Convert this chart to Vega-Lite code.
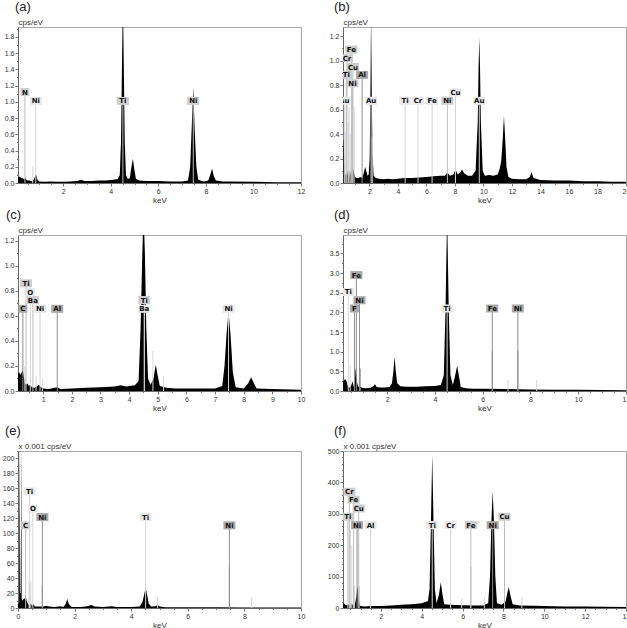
{
"$schema": "https://vega.github.io/schema/vega-lite/v6.json",
"padding": {"left": 1, "top": 0, "right": 0, "bottom": 0},
"background": "white",
"config": {
 "view": {"stroke": "#a8a8a8", "strokeWidth": 1},
 "axis": {"labelFont": "Liberation Sans", "labelFontSize": 7, "labelColor": "#333", "titleFont": "Liberation Sans", "titleFontSize": 8, "titleFontWeight": "normal", "titleColor": "#333", "domainColor": "#666", "tickColor": "#777", "grid": false, "labelPadding": 1, "labelOverlap": false, "labelFlush": false, "titlePadding": 2},
 "title": {"font": "Liberation Sans", "fontSize": 13, "fontWeight": "normal", "anchor": "start", "frame": "group", "baseline": "alphabetic", "offset": 4, "color": "#222"}
},
"datasets": {
 "a_s": [{"e":0.1,"v":0.07},{"e":0.15,"v":0.08},{"e":0.2,"v":0.07},{"e":0.25,"v":0.06},{"e":0.3,"v":0.06},{"e":0.35,"v":0.05},{"e":0.4,"v":0.06},{"e":0.45,"v":0.04},{"e":0.5,"v":0.03},{"e":0.6,"v":0.03},{"e":0.7,"v":0.02},{"e":0.78,"v":0.05},{"e":0.85,"v":0.11},{"e":0.92,"v":0.04},{"e":1.0,"v":0.02},{"e":1.2,"v":0.015},{"e":1.5,"v":0.02},{"e":1.7,"v":0.015},{"e":2.0,"v":0.015},{"e":2.3,"v":0.02},{"e":2.6,"v":0.025},{"e":2.75,"v":0.04},{"e":2.9,"v":0.025},{"e":3.2,"v":0.025},{"e":3.5,"v":0.03},{"e":3.8,"v":0.03},{"e":4.1,"v":0.04},{"e":4.3,"v":0.05},{"e":4.38,"v":0.1},{"e":4.43,"v":0.5},{"e":4.47,"v":1.4},{"e":4.51,"v":2.3},{"e":4.55,"v":1.4},{"e":4.59,"v":0.5},{"e":4.64,"v":0.1},{"e":4.72,"v":0.05},{"e":4.8,"v":0.06},{"e":4.86,"v":0.18},{"e":4.93,"v":0.3},{"e":5.0,"v":0.15},{"e":5.06,"v":0.05},{"e":5.2,"v":0.03},{"e":5.5,"v":0.025},{"e":6.0,"v":0.025},{"e":6.5,"v":0.02},{"e":7.0,"v":0.02},{"e":7.25,"v":0.03},{"e":7.34,"v":0.2},{"e":7.4,"v":0.65},{"e":7.47,"v":1.18},{"e":7.53,"v":0.65},{"e":7.6,"v":0.2},{"e":7.68,"v":0.04},{"e":7.9,"v":0.02},{"e":8.1,"v":0.03},{"e":8.18,"v":0.1},{"e":8.26,"v":0.18},{"e":8.33,"v":0.09},{"e":8.42,"v":0.03},{"e":8.7,"v":0.02},{"e":9,"v":0.02},{"e":10,"v":0.015},{"e":11,"v":0.01},{"e":12,"v":0.01}],
 "a_m": [{"e":0.72,"v":0.2,"g":1}],
 "a_l": [{"el":"N","e":0.39,"v":1.12,"g":2},{"el":"Ni","e":0.85,"v":1.01,"g":1},{"el":"Ti","e":4.51,"v":1.01,"g":2},{"el":"Ni","e":7.47,"v":1.01,"g":2}],
 "b_s": [{"e":0.15,"v":0.36},{"e":0.2,"v":0.33},{"e":0.25,"v":0.15},{"e":0.3,"v":0.06},{"e":0.35,"v":0.08},{"e":0.4,"v":0.05},{"e":0.45,"v":0.1},{"e":0.5,"v":0.06},{"e":0.57,"v":0.12},{"e":0.62,"v":0.05},{"e":0.7,"v":0.1},{"e":0.78,"v":0.06},{"e":0.85,"v":0.12},{"e":0.93,"v":0.08},{"e":1.0,"v":0.05},{"e":1.1,"v":0.04},{"e":1.25,"v":0.04},{"e":1.4,"v":0.05},{"e":1.5,"v":0.04},{"e":1.6,"v":0.08},{"e":1.7,"v":0.13},{"e":1.78,"v":0.1},{"e":1.86,"v":0.06},{"e":1.95,"v":0.07},{"e":2.02,"v":0.2},{"e":2.07,"v":0.7},{"e":2.12,"v":1.4},{"e":2.17,"v":0.7},{"e":2.22,"v":0.25},{"e":2.3,"v":0.06},{"e":2.45,"v":0.04},{"e":2.7,"v":0.035},{"e":3,"v":0.03},{"e":3.3,"v":0.035},{"e":3.6,"v":0.03},{"e":4,"v":0.035},{"e":4.5,"v":0.04},{"e":5,"v":0.04},{"e":5.5,"v":0.045},{"e":6,"v":0.05},{"e":6.5,"v":0.055},{"e":7,"v":0.06},{"e":7.3,"v":0.06},{"e":7.47,"v":0.085},{"e":7.65,"v":0.06},{"e":7.9,"v":0.07},{"e":8.04,"v":0.11},{"e":8.2,"v":0.07},{"e":8.4,"v":0.09},{"e":8.5,"v":0.11},{"e":8.65,"v":0.08},{"e":8.9,"v":0.06},{"e":9.2,"v":0.06},{"e":9.45,"v":0.1},{"e":9.6,"v":0.5},{"e":9.66,"v":0.95},{"e":9.71,"v":1.19},{"e":9.76,"v":0.95},{"e":9.82,"v":0.5},{"e":9.95,"v":0.1},{"e":10.1,"v":0.06},{"e":10.4,"v":0.065},{"e":10.7,"v":0.06},{"e":11.0,"v":0.07},{"e":11.15,"v":0.12},{"e":11.25,"v":0.18},{"e":11.35,"v":0.35},{"e":11.44,"v":0.55},{"e":11.53,"v":0.35},{"e":11.62,"v":0.13},{"e":11.75,"v":0.05},{"e":12.0,"v":0.035},{"e":12.5,"v":0.03},{"e":13.0,"v":0.03},{"e":13.25,"v":0.05},{"e":13.38,"v":0.09},{"e":13.5,"v":0.04},{"e":14,"v":0.025},{"e":15,"v":0.02},{"e":16,"v":0.02},{"e":17,"v":0.015},{"e":18,"v":0.015},{"e":19,"v":0.01},{"e":20,"v":0.01}],
 "b_m": [{"e":0.3,"v":0.42,"g":1},{"e":0.52,"v":0.5,"g":1},{"e":0.57,"v":0.62,"g":1},{"e":0.65,"v":0.4,"g":1},{"e":0.93,"v":0.62,"g":1},{"e":2.2,"v":0.38,"g":1}],
 "b_l": [{"el":"Fe","e":0.74,"v":1.09,"g":2},{"el":"Cr","e":0.43,"v":1.02,"g":2},{"el":"Cu","e":0.85,"v":0.948,"g":2},{"el":"Ti","e":0.38,"v":0.883,"g":2},{"el":"Al","e":1.49,"v":0.883,"g":3},{"el":"Ni","e":0.81,"v":0.815,"g":2},{"el":"Au","e":0.24,"v":0.672,"g":1},{"el":"Au","e":2.12,"v":0.672,"g":1},{"el":"Ti","e":4.51,"v":0.672,"g":1},{"el":"Cr","e":5.41,"v":0.672,"g":1},{"el":"Fe","e":6.4,"v":0.672,"g":1},{"el":"Ni","e":7.47,"v":0.672,"g":2},{"el":"Cu","e":8.04,"v":0.741,"g":1},{"el":"Au","e":9.71,"v":0.672,"g":1}],
 "c_s": [{"e":0.12,"v":0.14},{"e":0.16,"v":0.15},{"e":0.2,"v":0.13},{"e":0.25,"v":0.15},{"e":0.28,"v":0.17},{"e":0.32,"v":0.12},{"e":0.36,"v":0.06},{"e":0.4,"v":0.05},{"e":0.45,"v":0.06},{"e":0.5,"v":0.04},{"e":0.55,"v":0.05},{"e":0.6,"v":0.03},{"e":0.7,"v":0.025},{"e":0.8,"v":0.04},{"e":0.85,"v":0.05},{"e":0.92,"v":0.03},{"e":1,"v":0.02},{"e":1.2,"v":0.015},{"e":1.49,"v":0.03},{"e":1.6,"v":0.015},{"e":2,"v":0.02},{"e":2.5,"v":0.025},{"e":3,"v":0.03},{"e":3.5,"v":0.035},{"e":3.7,"v":0.045},{"e":3.9,"v":0.035},{"e":4.2,"v":0.045},{"e":4.33,"v":0.08},{"e":4.4,"v":0.5},{"e":4.45,"v":1.0},{"e":4.5,"v":1.45},{"e":4.55,"v":1.1},{"e":4.6,"v":0.5},{"e":4.66,"v":0.1},{"e":4.75,"v":0.05},{"e":4.85,"v":0.1},{"e":4.93,"v":0.21},{"e":5.0,"v":0.12},{"e":5.07,"v":0.04},{"e":5.3,"v":0.025},{"e":5.6,"v":0.02},{"e":6,"v":0.02},{"e":6.5,"v":0.02},{"e":7,"v":0.02},{"e":7.25,"v":0.04},{"e":7.33,"v":0.2},{"e":7.4,"v":0.45},{"e":7.47,"v":0.63},{"e":7.54,"v":0.45},{"e":7.62,"v":0.15},{"e":7.72,"v":0.03},{"e":8.0,"v":0.02},{"e":8.15,"v":0.06},{"e":8.26,"v":0.11},{"e":8.36,"v":0.06},{"e":8.45,"v":0.02},{"e":9,"v":0.015},{"e":10,"v":0.01}],
 "c_m": [{"e":0.36,"v":0.2,"g":1},{"e":0.75,"v":0.12,"g":1},{"e":0.97,"v":0.1,"g":1},{"e":4.83,"v":0.32,"g":1},{"e":5.2,"v":0.12,"g":1}],
 "c_l": [{"el":"Ti","e":0.4,"v":0.86,"g":2},{"el":"O","e":0.55,"v":0.79,"g":1},{"el":"Ba","e":0.64,"v":0.726,"g":2},{"el":"C","e":0.29,"v":0.656,"g":3},{"el":"Ni","e":0.89,"v":0.656,"g":1},{"el":"Al","e":1.49,"v":0.656,"g":3},{"el":"Ti","e":4.53,"v":0.726,"g":2},{"el":"Ba","e":4.53,"v":0.656,"g":1},{"el":"Ni","e":7.47,"v":0.656,"g":1}],
 "d_s": [{"e":0.15,"v":0.22},{"e":0.2,"v":0.28},{"e":0.25,"v":0.3},{"e":0.3,"v":0.25},{"e":0.35,"v":0.12},{"e":0.4,"v":0.08},{"e":0.45,"v":0.1},{"e":0.5,"v":0.15},{"e":0.55,"v":0.25},{"e":0.6,"v":0.1},{"e":0.65,"v":0.3},{"e":0.68,"v":0.6},{"e":0.72,"v":0.3},{"e":0.78,"v":0.1},{"e":0.85,"v":0.12},{"e":0.95,"v":0.08},{"e":1.1,"v":0.07},{"e":1.3,"v":0.08},{"e":1.42,"v":0.12},{"e":1.49,"v":0.17},{"e":1.56,"v":0.1},{"e":1.7,"v":0.09},{"e":1.9,"v":0.09},{"e":2.1,"v":0.1},{"e":2.2,"v":0.2},{"e":2.26,"v":0.5},{"e":2.31,"v":0.87},{"e":2.36,"v":0.5},{"e":2.42,"v":0.2},{"e":2.55,"v":0.12},{"e":2.8,"v":0.11},{"e":3.2,"v":0.11},{"e":3.6,"v":0.12},{"e":4.0,"v":0.13},{"e":4.25,"v":0.15},{"e":4.37,"v":0.4},{"e":4.44,"v":2.0},{"e":4.51,"v":4.5},{"e":4.58,"v":2.0},{"e":4.65,"v":0.4},{"e":4.75,"v":0.15},{"e":4.83,"v":0.35},{"e":4.93,"v":0.64},{"e":5.0,"v":0.4},{"e":5.08,"v":0.1},{"e":5.3,"v":0.07},{"e":5.6,"v":0.06},{"e":6,"v":0.06},{"e":7,"v":0.05},{"e":8,"v":0.04},{"e":9,"v":0.035},{"e":10,"v":0.03},{"e":11,"v":0.025},{"e":12,"v":0.02}],
 "d_m": [{"e":6.4,"v":1.02,"g":3},{"e":7.47,"v":1.02,"g":3},{"e":7.06,"v":0.28,"g":1},{"e":8.26,"v":0.28,"g":1},{"e":0.45,"v":0.65,"g":1},{"e":0.87,"v":0.57,"g":3}],
 "d_l": [{"el":"Fe","e":0.71,"v":2.95,"g":3},{"el":"Ti","e":0.37,"v":2.52,"g":1},{"el":"Ni","e":0.84,"v":2.31,"g":3},{"el":"F","e":0.63,"v":2.1,"g":3},{"el":"Ti","e":4.51,"v":2.1,"g":1},{"el":"Fe","e":6.4,"v":2.1,"g":3},{"el":"Ni","e":7.47,"v":2.1,"g":3}],
 "e_s": [{"e":0,"v":4},{"e":0.04,"v":8},{"e":0.06,"v":230},{"e":0.08,"v":20},{"e":0.1,"v":20},{"e":0.115,"v":230},{"e":0.13,"v":12},{"e":0.15,"v":10},{"e":0.2,"v":12},{"e":0.25,"v":13},{"e":0.28,"v":14},{"e":0.32,"v":8},{"e":0.38,"v":4},{"e":0.45,"v":6},{"e":0.5,"v":3},{"e":0.55,"v":5},{"e":0.6,"v":2},{"e":0.8,"v":2},{"e":0.9,"v":2},{"e":1.0,"v":3},{"e":1.1,"v":2},{"e":1.3,"v":1.5},{"e":1.49,"v":2.5},{"e":1.6,"v":1.5},{"e":1.68,"v":5},{"e":1.74,"v":12},{"e":1.8,"v":5},{"e":1.9,"v":1.5},{"e":2.2,"v":1.5},{"e":2.4,"v":2},{"e":2.6,"v":4},{"e":2.7,"v":2},{"e":3.0,"v":1.5},{"e":3.3,"v":2.5},{"e":3.5,"v":1.5},{"e":4.0,"v":1.5},{"e":4.3,"v":2},{"e":4.4,"v":8},{"e":4.47,"v":20},{"e":4.51,"v":27},{"e":4.56,"v":18},{"e":4.62,"v":6},{"e":4.7,"v":2},{"e":4.85,"v":2.5},{"e":4.93,"v":4},{"e":5.0,"v":2},{"e":5.2,"v":1},{"e":6,"v":1},{"e":7,"v":1},{"e":8,"v":0.8},{"e":9,"v":0.8},{"e":10,"v":0.6}],
 "e_m": [{"e":0.39,"v":36,"g":1},{"e":0.86,"v":30,"g":3},{"e":4.93,"v":14,"g":1},{"e":7.47,"v":55,"g":3},{"e":8.26,"v":15,"g":1},{"e":0.45,"v":35,"g":1}],
 "e_l": [{"el":"Ti","e":0.41,"v":156,"g":1},{"el":"O","e":0.525,"v":133,"g":1},{"el":"Ni","e":0.86,"v":121.6,"g":3},{"el":"C","e":0.27,"v":110.5,"g":2},{"el":"Ti","e":4.51,"v":121.6,"g":1},{"el":"Ni","e":7.47,"v":110.5,"g":3}],
 "f_s": [{"e":0.14,"v":15},{"e":0.2,"v":14},{"e":0.25,"v":10},{"e":0.3,"v":9},{"e":0.35,"v":8},{"e":0.4,"v":10},{"e":0.45,"v":12},{"e":0.5,"v":8},{"e":0.55,"v":15},{"e":0.6,"v":10},{"e":0.65,"v":12},{"e":0.7,"v":8},{"e":0.75,"v":20},{"e":0.8,"v":40},{"e":0.85,"v":70},{"e":0.9,"v":30},{"e":0.95,"v":12},{"e":1.0,"v":6},{"e":1.2,"v":5},{"e":1.5,"v":6},{"e":2.0,"v":6},{"e":2.5,"v":8},{"e":3.0,"v":10},{"e":3.5,"v":12},{"e":4.0,"v":15},{"e":4.3,"v":22},{"e":4.38,"v":60},{"e":4.44,"v":250},{"e":4.51,"v":490},{"e":4.58,"v":250},{"e":4.64,"v":60},{"e":4.72,"v":15},{"e":4.83,"v":40},{"e":4.93,"v":82},{"e":5.02,"v":40},{"e":5.1,"v":12},{"e":5.4,"v":10},{"e":6.0,"v":9},{"e":6.5,"v":8},{"e":7.0,"v":8},{"e":7.25,"v":15},{"e":7.34,"v":100},{"e":7.41,"v":280},{"e":7.47,"v":372},{"e":7.53,"v":280},{"e":7.6,"v":100},{"e":7.68,"v":15},{"e":7.9,"v":10},{"e":8.1,"v":20},{"e":8.18,"v":45},{"e":8.26,"v":67},{"e":8.34,"v":40},{"e":8.45,"v":12},{"e":8.8,"v":8},{"e":9.5,"v":7},{"e":10,"v":6},{"e":11,"v":5},{"e":12,"v":5},{"e":13,"v":4},{"e":14,"v":3}],
 "f_m": [{"e":0.45,"v":250,"g":1},{"e":0.5,"v":250,"g":1},{"e":0.57,"v":200,"g":1},{"e":0.65,"v":80,"g":1},{"e":0.7,"v":70,"g":1},{"e":0.93,"v":70,"g":2},{"e":5.95,"v":30,"g":1},{"e":6.4,"v":130,"g":2},{"e":7.06,"v":35,"g":1},{"e":8.05,"v":130,"g":2},{"e":8.9,"v":35,"g":1}],
 "f_l": [{"el":"Cr","e":0.45,"v":370,"g":2},{"el":"Fe","e":0.66,"v":345,"g":2},{"el":"Cu","e":0.91,"v":317,"g":2},{"el":"Ti","e":0.38,"v":290.5,"g":2},{"el":"Ni","e":0.83,"v":264,"g":3},{"el":"Al","e":1.49,"v":264,"g":1},{"el":"Ti","e":4.51,"v":264,"g":1},{"el":"Cr","e":5.41,"v":264,"g":1},{"el":"Fe","e":6.4,"v":264,"g":2},{"el":"Ni","e":7.47,"v":264,"g":3},{"el":"Cu","e":8.05,"v":290.5,"g":2}]
},
"vconcat": [
 {"concat": [
  {"width": 283, "height": 156, "title": {"text": "(a)", "dx": -3},
   "encoding": {
    "x": {"field": "e", "type": "quantitative", "scale": {"domain": [0.1, 12], "nice": false, "zero": false},
      "axis": {"title": "keV", "values": [0.5,1,1.5,2,2.5,3,3.5,4,4.5,5,5.5,6,6.5,7,7.5,8,8.5,9,9.5,10,10.5,11,11.5,12], "labelExpr": "abs(datum.value/2-round(datum.value/2))<0.001 ? format(datum.value,'d') : ''", "tickSize": {"condition": {"test": "abs(datum.value/2-round(datum.value/2))<0.001", "value": 3}, "value": 1.5}}},
    "y": {"field": "v", "type": "quantitative", "scale": {"domain": [0, 1.92], "nice": false},
      "axis": {"title": "cps/eV", "titleAngle": 0, "titleAlign": "left", "titleBaseline": "alphabetic", "titleX": 0, "titleY": -3, "values": [0,0.1,0.2,0.3,0.4,0.5,0.6,0.7,0.8,0.9,1,1.1,1.2,1.3,1.4,1.5,1.6,1.7,1.8,1.9], "labelExpr": "abs(datum.value/0.2-round(datum.value/0.2))<0.001 ? format(datum.value,'.1f') : ''", "tickSize": {"condition": {"test": "abs(datum.value/0.2-round(datum.value/0.2))<0.001", "value": 3}, "value": 1.5}}}
   },
   "layer": [
    {"data": {"name": "a_s"}, "mark": {"type": "area", "color": "black", "clip": true}},
    {"data": {"name": "a_m"}, "mark": {"type": "rule", "clip": true}, "encoding": {"y2": {"datum": 0}, "stroke": {"field": "g", "type": "nominal", "scale": {"domain": [1,2,3], "range": ["#d6d6d6","#bdbdbd","#8e8e8e"]}, "legend": null}}},
    {"data": {"name": "a_l"}, "mark": {"type": "rule", "clip": true}, "encoding": {"y2": {"datum": 0}, "stroke": {"field": "g", "type": "nominal", "scale": {"domain": [1,2,3], "range": ["#d6d6d6","#bdbdbd","#8e8e8e"]}, "legend": null}}},
    {"data": {"name": "a_l"}, "mark": {"type": "point", "filled": true, "opacity": 1, "size": 4, "strokeWidth": 0, "clip": true}, "encoding": {"shape": {"condition": {"test": "length(datum.el)==1", "value": "M-4.5,-4H4.5V4H-4.5Z"}, "value": "M-6,-4H6V4H-6Z"}, "fill": {"field": "g", "type": "nominal", "scale": {"domain": [1,2,3], "range": ["#e8e8e8","#cdcdcd","#a9a9a9"]}, "legend": null}}},
    {"data": {"name": "a_l"}, "mark": {"type": "text", "font": "DejaVu Sans", "fontSize": 7, "fontWeight": "bold", "color": "#111", "baseline": "middle", "dy": 0.5, "clip": true}, "encoding": {"text": {"field": "el"}}}
   ]},
  {"width": 283, "height": 156, "title": {"text": "(b)", "dx": -9},
   "encoding": {
    "x": {"field": "e", "type": "quantitative", "scale": {"domain": [0.15, 20], "nice": false, "zero": false},
      "axis": {"title": "keV", "values": [1,2,3,4,5,6,7,8,9,10,11,12,13,14,15,16,17,18,19,20], "labelExpr": "abs(datum.value/2-round(datum.value/2))<0.001 ? format(datum.value,'d') : ''", "tickSize": {"condition": {"test": "abs(datum.value/2-round(datum.value/2))<0.001", "value": 3}, "value": 1.5}}},
    "y": {"field": "v", "type": "quantitative", "scale": {"domain": [0, 1.275], "nice": false},
      "axis": {"title": "cps/eV", "titleAngle": 0, "titleAlign": "left", "titleBaseline": "alphabetic", "titleX": 0, "titleY": -3, "values": [0,0.1,0.2,0.3,0.4,0.5,0.6,0.7,0.8,0.9,1,1.1,1.2], "labelExpr": "abs(datum.value/0.2-round(datum.value/0.2))<0.001 ? format(datum.value,'.1f') : ''", "tickSize": {"condition": {"test": "abs(datum.value/0.2-round(datum.value/0.2))<0.001", "value": 3}, "value": 1.5}}}
   },
   "layer": [
    {"data": {"name": "b_s"}, "mark": {"type": "area", "color": "black", "clip": true}},
    {"data": {"name": "b_m"}, "mark": {"type": "rule", "clip": true}, "encoding": {"y2": {"datum": 0}, "stroke": {"field": "g", "type": "nominal", "scale": {"domain": [1,2,3], "range": ["#d6d6d6","#bdbdbd","#8e8e8e"]}, "legend": null}}},
    {"data": {"name": "b_l"}, "mark": {"type": "rule", "clip": true}, "encoding": {"y2": {"datum": 0}, "stroke": {"field": "g", "type": "nominal", "scale": {"domain": [1,2,3], "range": ["#d6d6d6","#bdbdbd","#8e8e8e"]}, "legend": null}}},
    {"data": {"name": "b_l"}, "mark": {"type": "point", "filled": true, "opacity": 1, "size": 4, "strokeWidth": 0, "clip": true}, "encoding": {"shape": {"condition": {"test": "length(datum.el)==1", "value": "M-4.5,-4H4.5V4H-4.5Z"}, "value": "M-6,-4H6V4H-6Z"}, "fill": {"field": "g", "type": "nominal", "scale": {"domain": [1,2,3], "range": ["#e8e8e8","#cdcdcd","#a9a9a9"]}, "legend": null}}},
    {"data": {"name": "b_l"}, "mark": {"type": "text", "font": "DejaVu Sans", "fontSize": 7, "fontWeight": "bold", "color": "#111", "baseline": "middle", "dy": 0.5, "clip": true}, "encoding": {"text": {"field": "el"}}}
   ]},
  {"width": 283, "height": 156, "title": {"text": "(c)", "dx": -12},
   "encoding": {
    "x": {"field": "e", "type": "quantitative", "scale": {"domain": [0.12, 10], "nice": false, "zero": false},
      "axis": {"title": "keV", "values": [0.5,1,1.5,2,2.5,3,3.5,4,4.5,5,5.5,6,6.5,7,7.5,8,8.5,9,9.5,10], "labelExpr": "abs(datum.value-round(datum.value))<0.001 ? format(datum.value,'d') : ''", "tickSize": {"condition": {"test": "abs(datum.value-round(datum.value))<0.001", "value": 3}, "value": 1.5}}},
    "y": {"field": "v", "type": "quantitative", "scale": {"domain": [0, 1.245], "nice": false},
      "axis": {"title": "cps/eV", "titleAngle": 0, "titleAlign": "left", "titleBaseline": "alphabetic", "titleX": 0, "titleY": -3, "values": [0,0.1,0.2,0.3,0.4,0.5,0.6,0.7,0.8,0.9,1,1.1,1.2], "labelExpr": "abs(datum.value/0.2-round(datum.value/0.2))<0.001 ? format(datum.value,'.1f') : ''", "tickSize": {"condition": {"test": "abs(datum.value/0.2-round(datum.value/0.2))<0.001", "value": 3}, "value": 1.5}}}
   },
   "layer": [
    {"data": {"name": "c_s"}, "mark": {"type": "area", "color": "black", "clip": true}},
    {"data": {"name": "c_m"}, "mark": {"type": "rule", "clip": true}, "encoding": {"y2": {"datum": 0}, "stroke": {"field": "g", "type": "nominal", "scale": {"domain": [1,2,3], "range": ["#d6d6d6","#bdbdbd","#8e8e8e"]}, "legend": null}}},
    {"data": {"name": "c_l"}, "mark": {"type": "rule", "clip": true}, "encoding": {"y2": {"datum": 0}, "stroke": {"field": "g", "type": "nominal", "scale": {"domain": [1,2,3], "range": ["#d6d6d6","#bdbdbd","#8e8e8e"]}, "legend": null}}},
    {"data": {"name": "c_l"}, "mark": {"type": "point", "filled": true, "opacity": 1, "size": 4, "strokeWidth": 0, "clip": true}, "encoding": {"shape": {"condition": {"test": "length(datum.el)==1", "value": "M-4.5,-4H4.5V4H-4.5Z"}, "value": "M-6,-4H6V4H-6Z"}, "fill": {"field": "g", "type": "nominal", "scale": {"domain": [1,2,3], "range": ["#e8e8e8","#cdcdcd","#a9a9a9"]}, "legend": null}}},
    {"data": {"name": "c_l"}, "mark": {"type": "text", "font": "DejaVu Sans", "fontSize": 7, "fontWeight": "bold", "color": "#111", "baseline": "middle", "dy": 0.5, "clip": true}, "encoding": {"text": {"field": "el"}}}
   ]},
  {"width": 283, "height": 156, "title": {"text": "(d)", "dx": -9},
   "encoding": {
    "x": {"field": "e", "type": "quantitative", "scale": {"domain": [0.15, 12], "nice": false, "zero": false},
      "axis": {"title": "keV", "values": [0.5,1,1.5,2,2.5,3,3.5,4,4.5,5,5.5,6,6.5,7,7.5,8,8.5,9,9.5,10,10.5,11,11.5,12], "labelExpr": "abs(datum.value/2-round(datum.value/2))<0.001 ? format(datum.value,'d') : ''", "tickSize": {"condition": {"test": "abs(datum.value/2-round(datum.value/2))<0.001", "value": 3}, "value": 1.5}}},
    "y": {"field": "v", "type": "quantitative", "scale": {"domain": [0, 3.97], "nice": false},
      "axis": {"title": "cps/eV", "titleAngle": 0, "titleAlign": "left", "titleBaseline": "alphabetic", "titleX": 0, "titleY": -3, "values": [0,0.25,0.5,0.75,1,1.25,1.5,1.75,2,2.25,2.5,2.75,3,3.25,3.5,3.75], "labelExpr": "abs(datum.value/0.5-round(datum.value/0.5))<0.001 ? format(datum.value,'.1f') : ''", "tickSize": {"condition": {"test": "abs(datum.value/0.5-round(datum.value/0.5))<0.001", "value": 3}, "value": 1.5}}}
   },
   "layer": [
    {"data": {"name": "d_s"}, "mark": {"type": "area", "color": "black", "clip": true}},
    {"data": {"name": "d_l"}, "mark": {"type": "rule", "clip": true}, "encoding": {"y2": {"datum": 0}, "stroke": {"field": "g", "type": "nominal", "scale": {"domain": [1,2,3], "range": ["#d6d6d6","#bdbdbd","#8e8e8e"]}, "legend": null}}},
    {"data": {"name": "d_m"}, "mark": {"type": "rule", "clip": true}, "encoding": {"y2": {"datum": 0}, "stroke": {"field": "g", "type": "nominal", "scale": {"domain": [1,2,3], "range": ["#d6d6d6","#bdbdbd","#8e8e8e"]}, "legend": null}}},
    {"data": {"name": "d_l"}, "mark": {"type": "point", "filled": true, "opacity": 1, "size": 4, "strokeWidth": 0, "clip": true}, "encoding": {"shape": {"condition": {"test": "length(datum.el)==1", "value": "M-4.5,-4H4.5V4H-4.5Z"}, "value": "M-6,-4H6V4H-6Z"}, "fill": {"field": "g", "type": "nominal", "scale": {"domain": [1,2,3], "range": ["#e8e8e8","#cdcdcd","#a9a9a9"]}, "legend": null}}},
    {"data": {"name": "d_l"}, "mark": {"type": "text", "font": "DejaVu Sans", "fontSize": 7, "fontWeight": "bold", "color": "#111", "baseline": "middle", "dy": 0.5, "clip": true}, "encoding": {"text": {"field": "el"}}}
   ]}
 ], "columns": 2, "spacing": {"row": 52, "column": 42}, "bounds": "flush"},
 {"hconcat": [
  {"width": 283, "height": 157, "title": {"text": "(e)", "dx": -13},
   "encoding": {
    "x": {"field": "e", "type": "quantitative", "scale": {"domain": [0, 10], "nice": false, "zero": false},
      "axis": {"title": "keV", "values": [0,0.5,1,1.5,2,2.5,3,3.5,4,4.5,5,5.5,6,6.5,7,7.5,8,8.5,9,9.5,10], "labelExpr": "abs(datum.value/2-round(datum.value/2))<0.001 ? format(datum.value,'d') : ''", "tickSize": {"condition": {"test": "abs(datum.value/2-round(datum.value/2))<0.001", "value": 3}, "value": 1.5}}},
    "y": {"field": "v", "type": "quantitative", "scale": {"domain": [0, 210], "nice": false},
      "axis": {"title": "x 0.001 cps/eV", "titleAngle": 0, "titleAlign": "left", "titleBaseline": "alphabetic", "titleX": 0, "titleY": -3, "values": [0,10,20,30,40,50,60,70,80,90,100,110,120,130,140,150,160,170,180,190,200,210], "labelExpr": "abs(datum.value/20-round(datum.value/20))<0.001 ? format(datum.value,'d') : ''", "tickSize": {"condition": {"test": "abs(datum.value/20-round(datum.value/20))<0.001", "value": 3}, "value": 1.5}}}
   },
   "layer": [
    {"data": {"name": "e_s"}, "mark": {"type": "area", "color": "black", "clip": true}},
    {"data": {"name": "e_l"}, "mark": {"type": "rule", "clip": true}, "encoding": {"y2": {"datum": 0}, "stroke": {"field": "g", "type": "nominal", "scale": {"domain": [1,2,3], "range": ["#d6d6d6","#bdbdbd","#8e8e8e"]}, "legend": null}}},
    {"data": {"name": "e_m"}, "mark": {"type": "rule", "clip": true}, "encoding": {"y2": {"datum": 0}, "stroke": {"field": "g", "type": "nominal", "scale": {"domain": [1,2,3], "range": ["#d6d6d6","#bdbdbd","#8e8e8e"]}, "legend": null}}},
    {"data": {"name": "e_l"}, "mark": {"type": "point", "filled": true, "opacity": 1, "size": 4, "strokeWidth": 0, "clip": true}, "encoding": {"shape": {"condition": {"test": "length(datum.el)==1", "value": "M-4.5,-4H4.5V4H-4.5Z"}, "value": "M-6,-4H6V4H-6Z"}, "fill": {"field": "g", "type": "nominal", "scale": {"domain": [1,2,3], "range": ["#e8e8e8","#cdcdcd","#a9a9a9"]}, "legend": null}}},
    {"data": {"name": "e_l"}, "mark": {"type": "text", "font": "DejaVu Sans", "fontSize": 7, "fontWeight": "bold", "color": "#111", "baseline": "middle", "dy": 0.5, "clip": true}, "encoding": {"text": {"field": "el"}}}
   ]},
  {"width": 283, "height": 157, "title": {"text": "(f)", "dx": -9},
   "encoding": {
    "x": {"field": "e", "type": "quantitative", "scale": {"domain": [0.14, 14], "nice": false, "zero": false},
      "axis": {"title": "keV", "values": [0.5,1,1.5,2,2.5,3,3.5,4,4.5,5,5.5,6,6.5,7,7.5,8,8.5,9,9.5,10,10.5,11,11.5,12,12.5,13,13.5,14], "labelExpr": "abs(datum.value/2-round(datum.value/2))<0.001 ? format(datum.value,'d') : ''", "tickSize": {"condition": {"test": "abs(datum.value/2-round(datum.value/2))<0.001", "value": 3}, "value": 1.5}}},
    "y": {"field": "v", "type": "quantitative", "scale": {"domain": [0, 500], "nice": false},
      "axis": {"title": "x 0.001 cps/eV", "titleAngle": 0, "titleAlign": "left", "titleBaseline": "alphabetic", "titleX": 0, "titleY": -3, "values": [0,20,40,60,80,100,120,140,160,180,200,220,240,260,280,300,320,340,360,380,400,420,440,460,480,500], "labelExpr": "abs(datum.value/100-round(datum.value/100))<0.001 ? format(datum.value,'d') : ''", "tickSize": {"condition": {"test": "abs(datum.value/100-round(datum.value/100))<0.001", "value": 3}, "value": 1.5}}}
   },
   "layer": [
    {"data": {"name": "f_s"}, "mark": {"type": "area", "color": "black", "clip": true}},
    {"data": {"name": "f_m"}, "mark": {"type": "rule", "clip": true}, "encoding": {"y2": {"datum": 0}, "stroke": {"field": "g", "type": "nominal", "scale": {"domain": [1,2,3], "range": ["#d6d6d6","#bdbdbd","#8e8e8e"]}, "legend": null}}},
    {"data": {"name": "f_l"}, "mark": {"type": "rule", "clip": true}, "encoding": {"y2": {"datum": 0}, "stroke": {"field": "g", "type": "nominal", "scale": {"domain": [1,2,3], "range": ["#d6d6d6","#bdbdbd","#8e8e8e"]}, "legend": null}}},
    {"data": {"name": "f_l"}, "mark": {"type": "point", "filled": true, "opacity": 1, "size": 4, "strokeWidth": 0, "clip": true}, "encoding": {"shape": {"condition": {"test": "length(datum.el)==1", "value": "M-4.5,-4H4.5V4H-4.5Z"}, "value": "M-6,-4H6V4H-6Z"}, "fill": {"field": "g", "type": "nominal", "scale": {"domain": [1,2,3], "range": ["#e8e8e8","#cdcdcd","#a9a9a9"]}, "legend": null}}},
    {"data": {"name": "f_l"}, "mark": {"type": "text", "font": "DejaVu Sans", "fontSize": 7, "fontWeight": "bold", "color": "#111", "baseline": "middle", "dy": 0.5, "clip": true}, "encoding": {"text": {"field": "el"}}}
   ]}
 ], "spacing": 42, "bounds": "flush"}
],
"spacing": 11
}
